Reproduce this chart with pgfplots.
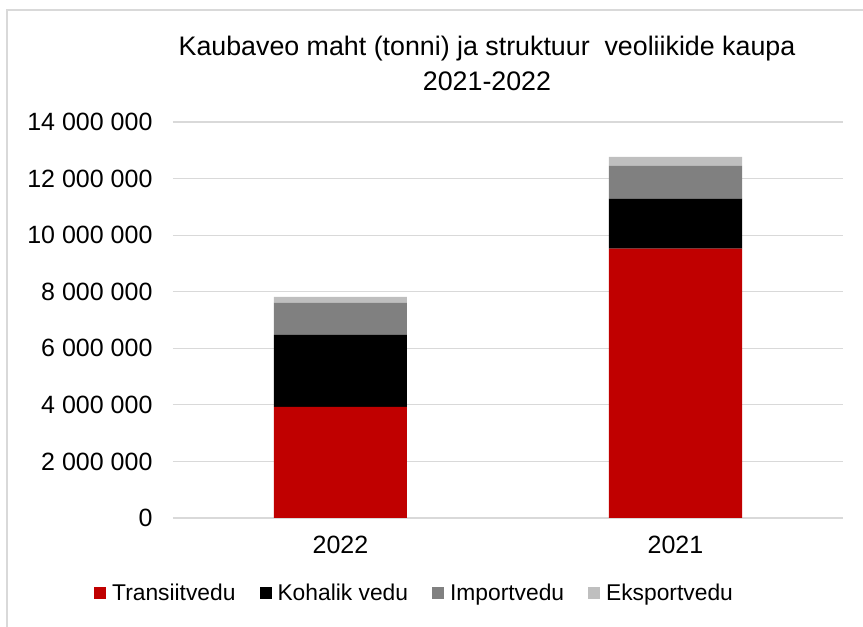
\documentclass[border=0pt]{standalone}
\usepackage{pgfplots}
\pgfplotsset{compat=1.18}
\usepackage{fontspec}
\setmainfont{Liberation Sans}
\definecolor{cT}{HTML}{C00000}
\definecolor{cK}{HTML}{000000}
\definecolor{cI}{HTML}{808080}
\definecolor{cE}{HTML}{BFBFBF}
\definecolor{cGrid}{HTML}{D9D9D9}
\begin{document}
\begin{tikzpicture}[x=1pt,y=1pt]
\path[use as bounding box] (-173,-109) rectangle (690,518);
\draw[cGrid, line width=1.2pt] (-166,-140) -- (-166,508) -- (720,508);
\node[align=center, font=\fontsize{26.8}{35}\selectfont] at (314,454.5) {Kaubaveo maht (tonni) ja struktuur\ \ veoliikide kaupa\\2021-2022};
\begin{axis}[
  at={(0,0)}, anchor=south west,
  scale only axis, width=670pt, height=396pt,
  xmin=-0.5, xmax=1.5, ymin=0, ymax=14000000,
  ybar stacked, bar width=133pt,
  axis line style={draw=none},
  major tick length=0pt,
  ymajorgrids, grid style={cGrid, line width=1.2pt},
  xtick={0,1}, xticklabels={2022,2021},
  ytick={0,2000000,4000000,6000000,8000000,10000000,12000000,14000000},
  yticklabels={0,2 000 000,4 000 000,6 000 000,8 000 000,10 000 000,12 000 000,14 000 000},
  scaled y ticks=false,
  tick label style={font=\fontsize{25}{30}\selectfont},
  yticklabel style={xshift=-17pt},
  xticklabel style={yshift=-15pt},
  legend style={at={(0.3605,-0.189)}, anchor=center, draw=none, fill=none,
    legend columns=4, font=\fontsize{22.8}{27}\selectfont,
    /tikz/every odd column/.append style={column sep=4pt},
    /tikz/every even column/.append style={column sep=22pt}},
  legend image code/.code={\fill[#1] (0pt,-6pt) rectangle (12pt,6pt);},
]
\addplot[fill=cT, draw=none] coordinates {(0,3930000) (1,9520000)};
\addplot[fill=cK, draw=none] coordinates {(0,2540000) (1,1770000)};
\addplot[fill=cI, draw=none] coordinates {(0,1140000) (1,1160000)};
\addplot[fill=cE, draw=none] coordinates {(0,210000) (1,320000)};
\legend{Transiitvedu,Kohalik vedu,Importvedu,Eksportvedu}
\end{axis}
\end{tikzpicture}
\end{document}
